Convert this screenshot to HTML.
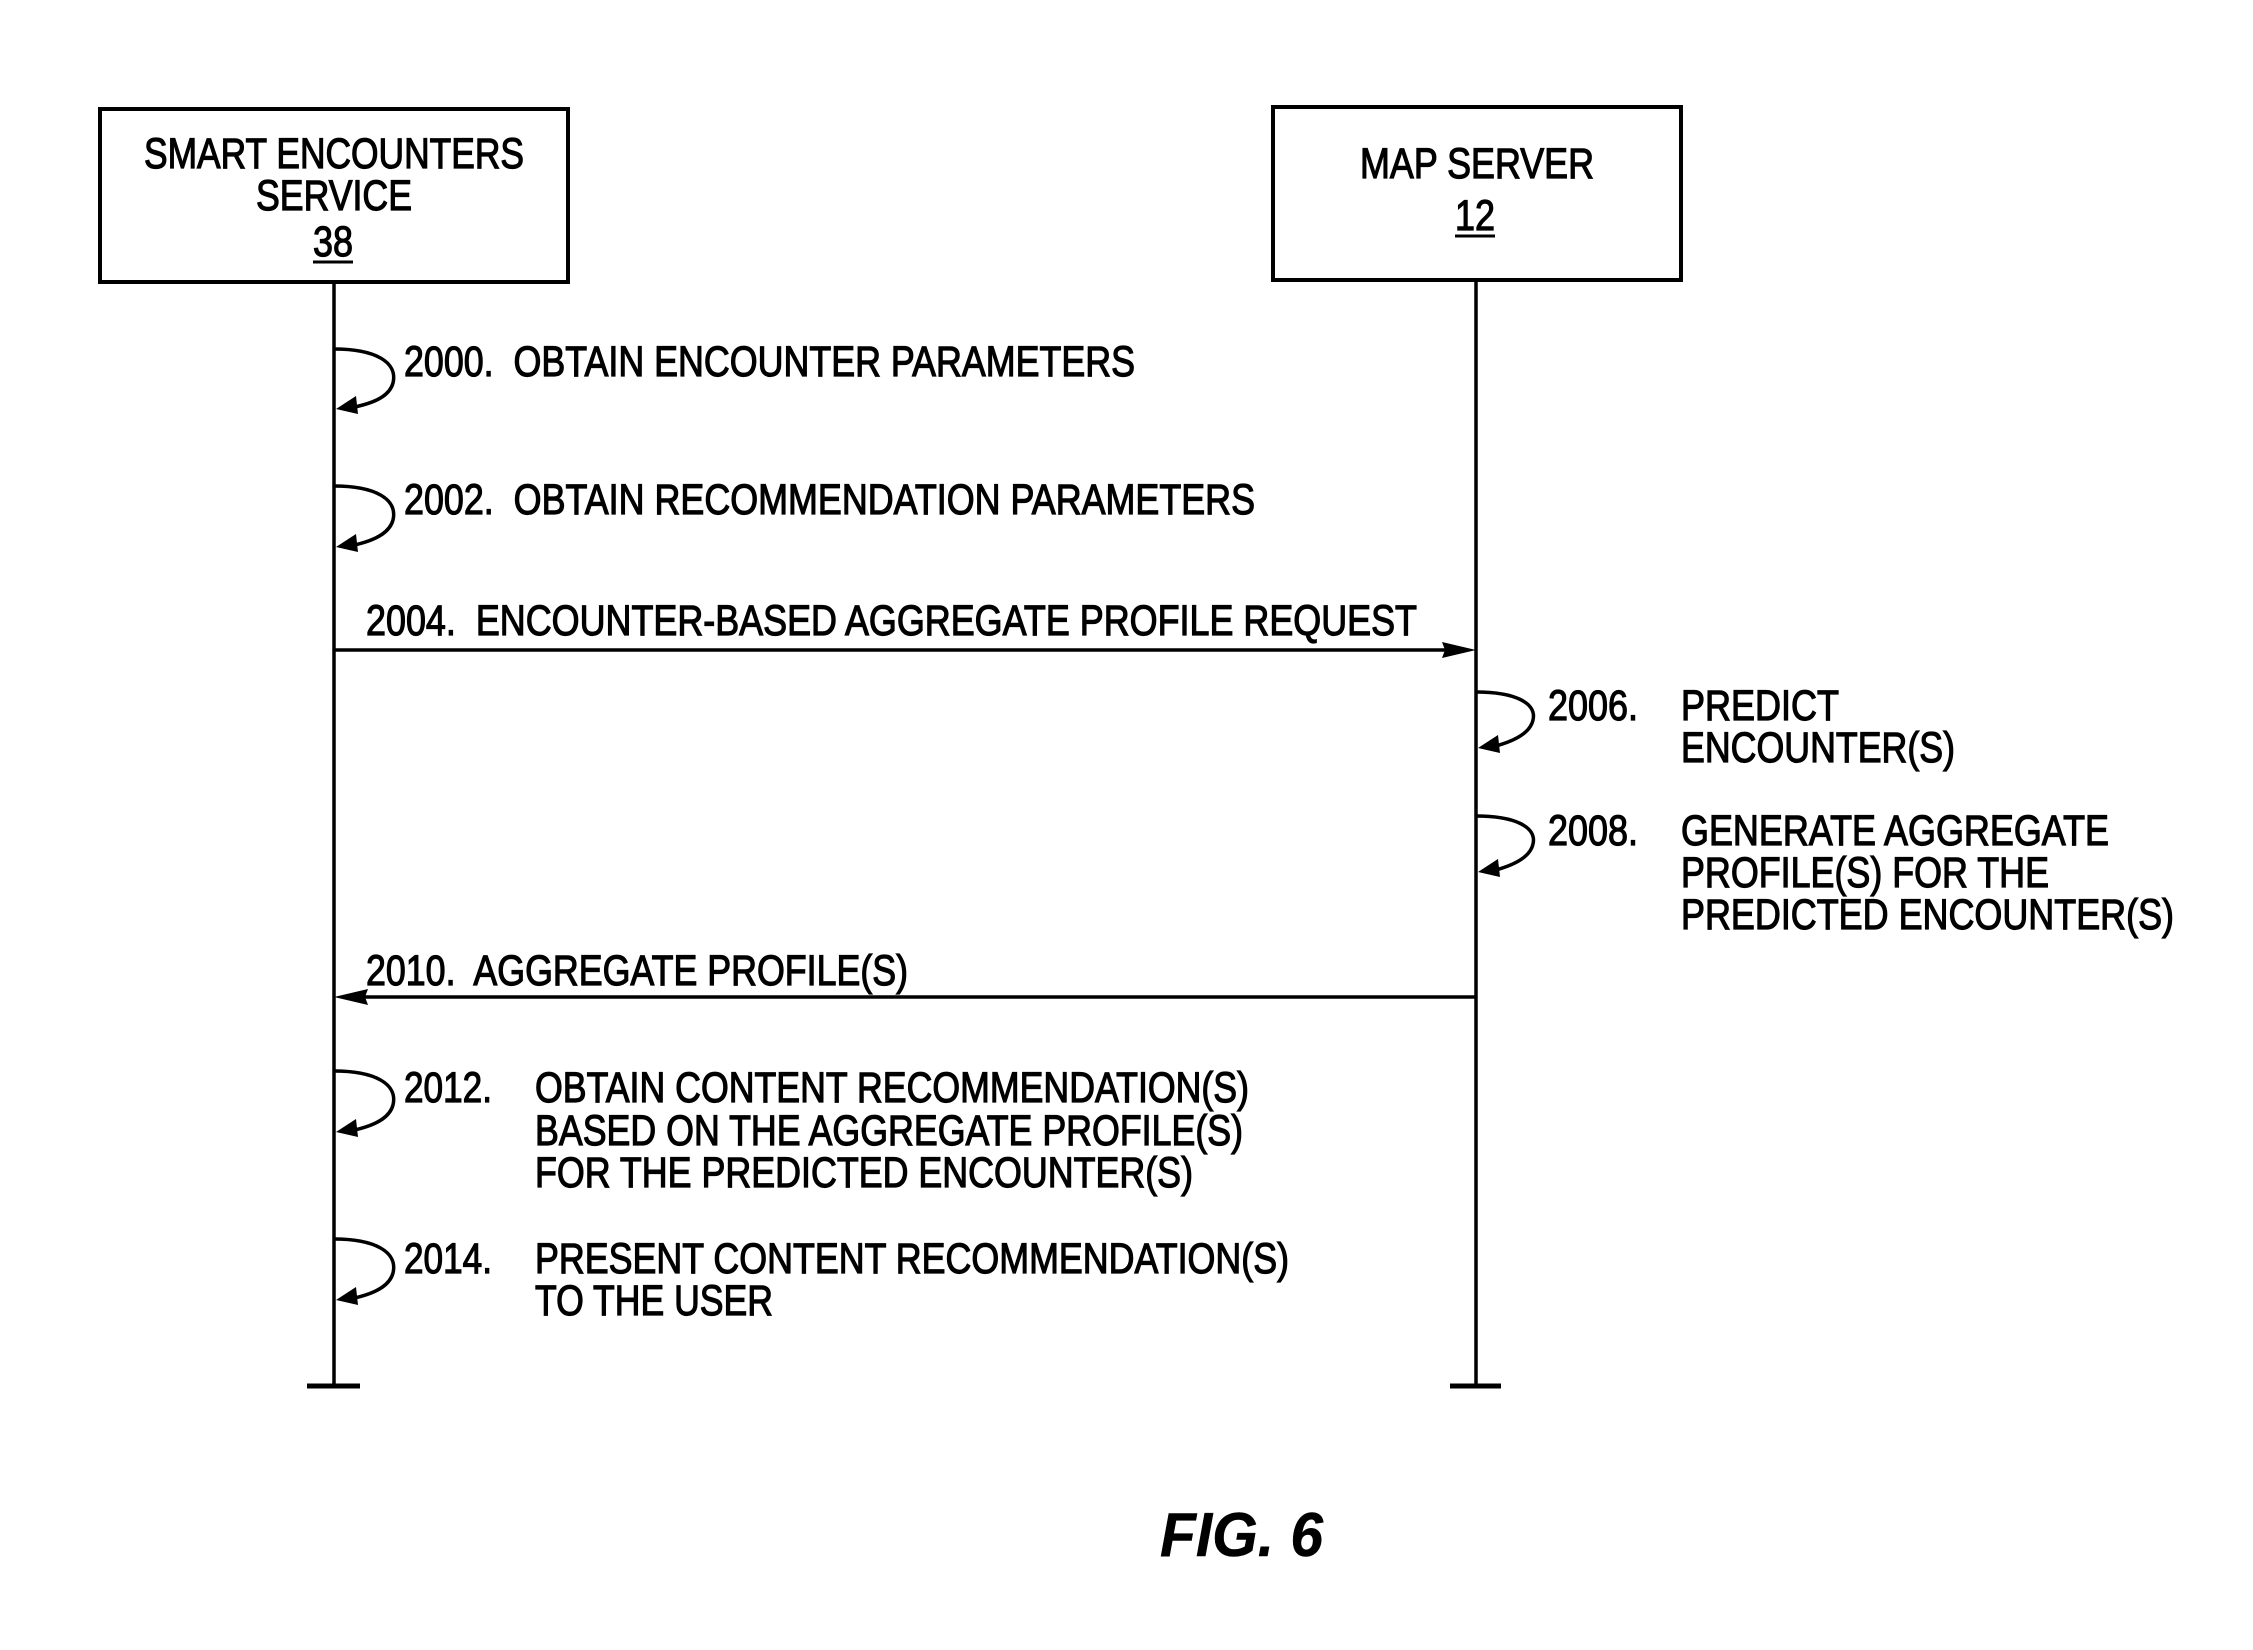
<!DOCTYPE html>
<html><head><meta charset="utf-8"><style>
html,body{margin:0;padding:0;background:#fff;}
svg{display:block;}
text{font-family:"Liberation Sans",sans-serif;font-size:43px;fill:#000;stroke:#000;stroke-width:1.2px;}
</style></head><body>
<svg width="2253" height="1650" viewBox="0 0 2253 1650" xmlns="http://www.w3.org/2000/svg">
<g fill="none" stroke="#000" stroke-width="4">
<rect x="100" y="109" width="468" height="173"/>
<rect x="1273" y="107" width="408" height="173"/>
</g>
<g stroke="#000" stroke-width="3.5" fill="none">
<line x1="334" y1="282" x2="334" y2="1386"/>
<line x1="1476" y1="280" x2="1476" y2="1386"/>
<line x1="307" y1="1386" x2="360" y2="1386" stroke-width="5"/>
<line x1="1450" y1="1386" x2="1501" y2="1386" stroke-width="5"/>
<line x1="334" y1="650" x2="1450" y2="650"/>
<line x1="360" y1="997" x2="1476" y2="997"/>
</g>
<polygon points="1476,650 1442,642 1445,650 1442,658" fill="#000"/>
<polygon points="334,997 368,989 365,997 368,1005" fill="#000"/>
<g stroke="#000" stroke-width="3.5" fill="none">
<path d="M334,349 C375,349 398,362 393,383 C389,398 370,404 350,408"/>
<path d="M334,486 C375,486 398,499 393,520 C389,535 370,542 350,546"/>
<path d="M1476,692 C1515,692 1537,703 1533,720 C1530,734 1512,742 1492,747"/>
<path d="M1476,816 C1515,816 1537,827 1533,844 C1530,858 1512,866 1492,871"/>
<path d="M334,1071 C375,1071 398,1084 393,1105 C389,1120 370,1127 350,1131"/>
<path d="M334,1239 C375,1239 398,1252 393,1273 C389,1288 370,1295 350,1299"/>
</g>
<g fill="#000">
<polygon points="336,409 356,396 358,414"/>
<polygon points="336,547 356,534 358,552"/>
<polygon points="1478,748 1498,735 1500,753"/>
<polygon points="1478,872 1498,859 1500,877"/>
<polygon points="336,1132 356,1119 358,1137"/>
<polygon points="336,1300 356,1287 358,1305"/>
</g>
<text x="334" y="168" text-anchor="middle" textLength="380" lengthAdjust="spacingAndGlyphs">SMART ENCOUNTERS</text>
<text x="334" y="210" text-anchor="middle" textLength="156" lengthAdjust="spacingAndGlyphs">SERVICE</text>
<text x="333" y="256" text-anchor="middle" textLength="40" lengthAdjust="spacingAndGlyphs">38</text>
<line x1="313" y1="262" x2="353" y2="262" stroke="#000" stroke-width="3"/>
<text x="1477" y="178" text-anchor="middle" textLength="234" lengthAdjust="spacingAndGlyphs">MAP SERVER</text>
<text x="1475" y="230" text-anchor="middle" textLength="40" lengthAdjust="spacingAndGlyphs">12</text>
<line x1="1455" y1="236" x2="1495" y2="236" stroke="#000" stroke-width="3"/>
<text x="404" y="376" textLength="731" lengthAdjust="spacingAndGlyphs" xml:space="preserve">2000.  OBTAIN ENCOUNTER PARAMETERS</text>
<text x="404" y="514" textLength="851" lengthAdjust="spacingAndGlyphs" xml:space="preserve">2002.  OBTAIN RECOMMENDATION PARAMETERS</text>
<text x="366" y="635" textLength="1051" lengthAdjust="spacingAndGlyphs" xml:space="preserve">2004.  ENCOUNTER-BASED AGGREGATE PROFILE REQUEST</text>
<text x="1548" y="720" textLength="90" lengthAdjust="spacingAndGlyphs">2006.</text>
<text x="1681" y="720" textLength="158" lengthAdjust="spacingAndGlyphs">PREDICT</text>
<text x="1681" y="762" textLength="274" lengthAdjust="spacingAndGlyphs">ENCOUNTER(S)</text>
<text x="1548" y="845" textLength="90" lengthAdjust="spacingAndGlyphs">2008.</text>
<text x="1681" y="845" textLength="428" lengthAdjust="spacingAndGlyphs">GENERATE AGGREGATE</text>
<text x="1681" y="887" textLength="368" lengthAdjust="spacingAndGlyphs">PROFILE(S) FOR THE</text>
<text x="1681" y="929" textLength="493" lengthAdjust="spacingAndGlyphs">PREDICTED ENCOUNTER(S)</text>
<text x="366" y="985" textLength="542" lengthAdjust="spacingAndGlyphs" xml:space="preserve">2010.  AGGREGATE PROFILE(S)</text>
<text x="404" y="1102" textLength="88" lengthAdjust="spacingAndGlyphs">2012.</text>
<text x="535" y="1102" textLength="714" lengthAdjust="spacingAndGlyphs">OBTAIN CONTENT RECOMMENDATION(S)</text>
<text x="535" y="1145" textLength="708" lengthAdjust="spacingAndGlyphs">BASED ON THE AGGREGATE PROFILE(S)</text>
<text x="535" y="1187" textLength="658" lengthAdjust="spacingAndGlyphs">FOR THE PREDICTED ENCOUNTER(S)</text>
<text x="404" y="1273" textLength="88" lengthAdjust="spacingAndGlyphs">2014.</text>
<text x="535" y="1273" textLength="754" lengthAdjust="spacingAndGlyphs">PRESENT CONTENT RECOMMENDATION(S)</text>
<text x="535" y="1315" textLength="238" lengthAdjust="spacingAndGlyphs">TO THE USER</text>
<text x="1160" y="1556" style="font-size:62px;font-weight:bold;font-style:italic;stroke-width:0.5px" textLength="163" lengthAdjust="spacingAndGlyphs">FIG. 6</text>
</svg>
</body></html>
